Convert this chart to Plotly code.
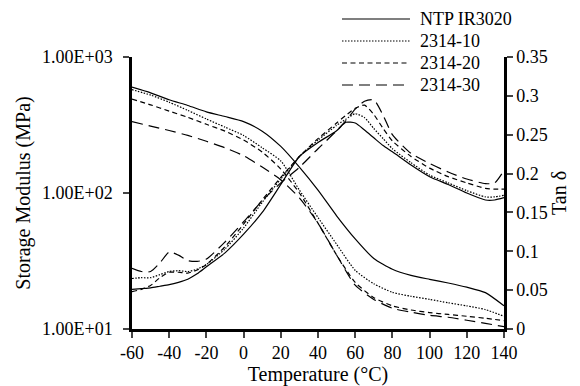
import plotly.graph_objects as go

# ---------------- data ----------------
series_names = ["NTP IR3020", "2314-10", "2314-20", "2314-30"]

temp_mod = [-60, -50, -40, -30, -20, -10, 0, 10, 20, 30, 40, 50, 60, 70, 80, 90, 100, 110, 120, 130, 140]
mod_ntp = [600, 545, 485, 440, 395, 365, 335, 285, 220, 155, 105, 68, 46, 33, 27.5, 24.8, 23.2, 21.8, 20.3, 18.5, 14.8]
mod_10 = [575, 525, 465, 405, 350, 305, 265, 215, 172, 105, 66, 42, 27, 21.5, 18.6, 17.4, 16.5, 15.6, 14.8, 13.9, 12.4]
mod_20 = [490, 445, 400, 360, 320, 285, 245, 200, 150, 100, 60, 35, 22, 17, 14.8, 13.8, 13.2, 12.8, 12.4, 12.0, 11.5]
mod_30 = [335, 310, 288, 265, 240, 215, 188, 155, 125, 92, 60, 35, 21, 16.5, 14.2, 13.3, 12.6, 12.2, 11.6, 11.0, 10.4]

temp_tan = [-60, -55, -50, -45, -40, -35, -30, -25, -20, -10, 0, 10, 20, 30, 40, 50, 55, 60, 65, 70, 75, 80, 90, 100, 110, 120, 130, 135, 140]
tan_ntp = [0.051, 0.052, 0.053, 0.055, 0.057, 0.060, 0.064, 0.071, 0.080, 0.098, 0.122, 0.150, 0.186, 0.222, 0.240, 0.255, 0.266, 0.265, 0.256, 0.246, 0.236, 0.228, 0.211, 0.196, 0.186, 0.175, 0.166, 0.166, 0.169]
tan_10 = [0.065, 0.066, 0.066, 0.070, 0.074, 0.075, 0.074, 0.077, 0.083, 0.103, 0.130, 0.163, 0.193, 0.222, 0.243, 0.262, 0.270, 0.277, 0.272, 0.258, 0.245, 0.232, 0.214, 0.198, 0.188, 0.178, 0.170, 0.170, 0.172]
tan_20 = [0.048, 0.051, 0.056, 0.066, 0.073, 0.073, 0.072, 0.076, 0.083, 0.106, 0.135, 0.166, 0.195, 0.222, 0.245, 0.265, 0.275, 0.284, 0.288, 0.276, 0.258, 0.242, 0.222, 0.207, 0.196, 0.188, 0.181, 0.180, 0.180]
tan_30 = [0.078, 0.074, 0.074, 0.085, 0.099, 0.095, 0.088, 0.087, 0.090, 0.112, 0.138, 0.165, 0.188, 0.208, 0.232, 0.255, 0.268, 0.283, 0.293, 0.295, 0.275, 0.250, 0.226, 0.213, 0.202, 0.193, 0.187, 0.188, 0.204]

x_ticks = [-60, -40, -20, 0, 20, 40, 60, 80, 100, 120, 140]
x_tick_text = ["-60", "-40", "-20", "0", "20", "40", "60", "80", "100", "120", "140"]
y_left_vals = [10, 100, 1000]
y_left_text = ["1.00E+01", "1.00E+02", "1.00E+03"]
y_right_vals = [0, 0.05, 0.1, 0.15, 0.2, 0.25, 0.3, 0.35]
y_right_text = ["0", "0.05", "0.1", "0.15", "0.2", "0.25", "0.3", "0.35"]

dashes = ["solid", "1.5px,1.5px", "5px,3.5px", "11px,6px"]

# ---------------- figure ----------------
FONT = "Liberation Serif, Times New Roman, serif"
fig = go.Figure()

mods = [mod_ntp, mod_10, mod_20, mod_30]
tans = [tan_ntp, tan_10, tan_20, tan_30]
for name, m, t, d in zip(series_names, mods, tans, dashes):
    fig.add_trace(go.Scatter(x=temp_mod, y=m, mode="lines", name=name, showlegend=False,
                             line=dict(color="black", width=1.2, dash=d, shape="spline", smoothing=0.6),
                             yaxis="y"))
    fig.add_trace(go.Scatter(x=temp_tan, y=t, mode="lines", name=name, showlegend=False,
                             line=dict(color="black", width=1.2, dash=d, shape="spline", smoothing=0.6),
                             yaxis="y2"))

# legend drawn as line samples + text (positions in paper coordinates)
leg_x0, leg_x1, leg_tx = 0.5645, 0.7473, 0.7688
leg_rows = [1.1397, 1.0588, 0.9779, 0.8971]
for name, d, yy in zip(series_names, dashes, leg_rows):
    fig.add_shape(type="line", xref="paper", yref="paper", x0=leg_x0, x1=leg_x1, y0=yy, y1=yy,
                  line=dict(color="black", width=1.2, dash=d))
    fig.add_annotation(xref="paper", yref="paper", x=leg_tx, y=yy, text=name, showarrow=False,
                       xanchor="left", yanchor="middle", font=dict(size=18, family=FONT, color="black"))

fig.update_layout(
    width=572, height=378,
    margin=dict(l=124, r=76, t=49, b=57, autoexpand=False),
    paper_bgcolor="white", plot_bgcolor="white",
    font=dict(family=FONT, size=18, color="black"),
    showlegend=False,
    xaxis=dict(range=[-60, 140], tickvals=x_ticks, ticktext=x_tick_text, ticks="outside", ticklen=6, tickwidth=1.5,
               showline=True, linewidth=2.5, linecolor="black", showgrid=False, zeroline=False,
               title=dict(text="Temperature (°C)", font=dict(size=20), standoff=3),
               tickfont=dict(size=18)),
    yaxis=dict(type="log", range=[1, 3], tickvals=y_left_vals, ticktext=y_left_text,
               ticks="outside", ticklen=6, tickwidth=1.5, ticklabelstandoff=7,
               showline=True, linewidth=2.5, linecolor="black", showgrid=False, zeroline=False,
               title=dict(text="Storage Modulus (MPa)", font=dict(size=20), standoff=6),
               tickfont=dict(size=18)),
    yaxis2=dict(overlaying="y", side="right", range=[0, 0.35], tickvals=y_right_vals, ticktext=y_right_text,
                ticks="outside", ticklen=6, tickwidth=1.5,
                showline=True, linewidth=2.5, linecolor="black", showgrid=False, zeroline=False,
                title=dict(text="Tan δ", font=dict(size=20), standoff=4),
                tickfont=dict(size=18)),
)

fig.write_html("out.html")
